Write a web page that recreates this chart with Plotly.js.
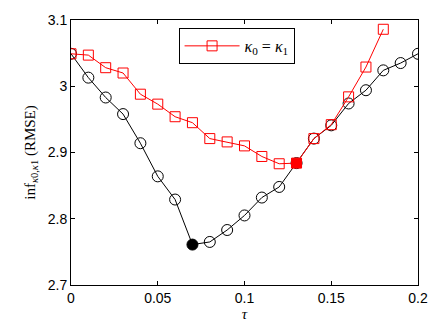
<!DOCTYPE html>
<html>
<head>
<meta charset="utf-8">
<script src="https://cdn.plot.ly/plotly-3.0.1.min.js"></script>
<style>
body { margin: 0; background: #fff; }
#chart { width: 437px; height: 329px; }
</style>
</head>
<body>
<div id="chart"></div>
<script>
// tau values
var tauAll = [0, 0.01, 0.02, 0.03, 0.04, 0.05, 0.06, 0.07, 0.08, 0.09, 0.10,
              0.11, 0.12, 0.13, 0.14, 0.15, 0.16, 0.17, 0.18, 0.19, 0.20];
var rmseBlack = [3.049, 3.013, 2.983, 2.958, 2.914, 2.864, 2.829, 2.761, 2.765, 2.783, 2.805,
                 2.832, 2.848, 2.884, 2.921, 2.941, 2.974, 2.994, 3.024, 3.035, 3.049];

var tauRed = [0, 0.01, 0.02, 0.03, 0.04, 0.05, 0.06, 0.07, 0.08, 0.09, 0.10,
              0.11, 0.12, 0.13, 0.14, 0.15, 0.16, 0.17, 0.18];
var rmseRed = [3.049, 3.047, 3.028, 3.020, 2.988, 2.973, 2.954, 2.945, 2.921, 2.916, 2.910,
               2.894, 2.883, 2.884, 2.921, 2.942, 2.984, 3.029, 3.086];

// minimum points (filled)
var minBlack = {x: [0.07], y: [2.761]};
var minRed = {x: [0.13], y: [2.884]};

var xTicks = [0, 0.05, 0.1, 0.15, 0.2];
var xTickText = ['0', '0.05', '0.1', '0.15', '0.2'];
var yTicks = [2.7, 2.8, 2.9, 3, 3.1];
var yTickText = ['2.7', '2.8', '2.9', '3', '3.1'];

var traceBlack = {
  x: tauAll, y: rmseBlack,
  type: 'scatter', mode: 'lines+markers',
  showlegend: false,
  line: {color: 'black', width: 1},
  marker: {symbol: 'circle-open', size: 11, color: 'black', line: {width: 1}}
};
var traceRed = {
  x: tauRed, y: rmseRed,
  type: 'scatter', mode: 'lines+markers',
  name: '<i>κ</i><sub>0</sub> = <i>κ</i><sub>1</sub>',
  line: {color: 'red', width: 1},
  marker: {symbol: 'square-open', size: 10, color: 'red', line: {width: 1}}
};
var traceMinBlack = {
  x: minBlack.x, y: minBlack.y,
  type: 'scatter', mode: 'markers', showlegend: false,
  marker: {symbol: 'circle', size: 11, color: 'black'}
};
var traceMinRed = {
  x: minRed.x, y: minRed.y,
  type: 'scatter', mode: 'markers', showlegend: false,
  marker: {symbol: 'square', size: 10, color: 'red'}
};

var data = [traceBlack, traceRed, traceMinBlack, traceMinRed];

var layout = {
  width: 437, height: 329,
  margin: {l: 71, r: 19, t: 20, b: 44},
  paper_bgcolor: 'white', plot_bgcolor: 'white',
  font: {family: 'Liberation Sans, Arial, sans-serif', size: 14, color: 'black'},
  showlegend: true,
  legend: {
    x: 0.31, y: 0.97, xanchor: 'left', yanchor: 'top',
    bgcolor: 'white', bordercolor: 'black', borderwidth: 1,
    font: {family: 'Liberation Serif, serif', size: 16},
    itemwidth: 55,
    tracegroupgap: 0
  },
  xaxis: {
    range: [0, 0.2],
    tickvals: xTicks, ticktext: xTickText,
    ticks: 'inside', ticklen: 4, tickcolor: 'black',
    showgrid: false, zeroline: false,
    showline: true, linecolor: 'black', linewidth: 1, mirror: 'ticks',
    title: {text: '<i>τ</i>', font: {family: 'Liberation Serif, serif', size: 15}, standoff: 2}
  },
  yaxis: {
    range: [2.7, 3.1],
    tickvals: yTicks, ticktext: yTickText,
    ticks: 'inside', ticklen: 4, tickcolor: 'black',
    showgrid: false, zeroline: false,
    showline: true, linecolor: 'black', linewidth: 1, mirror: 'ticks',
    title: {text: 'inf<sub><i>κ</i>0,<i>κ</i>1</sub> (RMSE)', font: {family: 'Liberation Serif, serif', size: 15}, standoff: 8}
  }
};

Plotly.newPlot('chart', data, layout, {displayModeBar: false, staticPlot: true});
</script>
</body>
</html>
